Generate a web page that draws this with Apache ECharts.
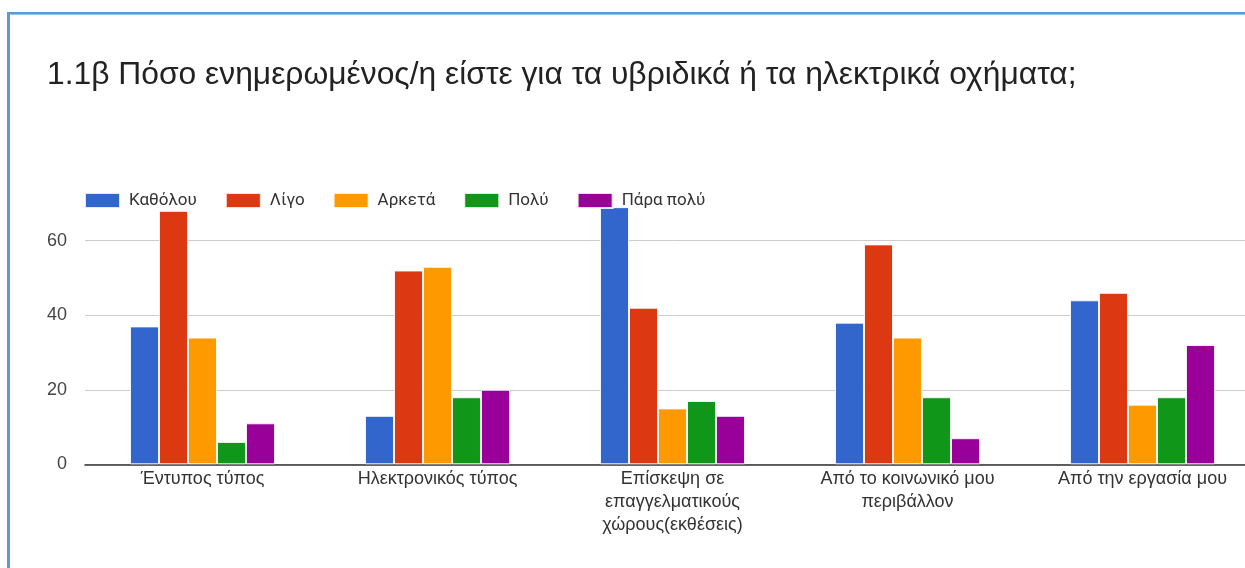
<!DOCTYPE html>
<html>
<head>
<meta charset="utf-8">
<script src="https://cdn.jsdelivr.net/npm/echarts@6/dist/echarts.min.js"></script>
<style>
  html, body { margin: 0; padding: 0; background: #fff; overflow: hidden; }
  /* plot runs slightly past the right edge of the window */
  #chart { width: 1260px; height: 568px; }
</style>
</head>
<body>
<div id="chart"></div>
<script>
// Survey: how informed respondents are about hybrid / electric vehicles, by information source
const titleText = '1.1β Πόσο ενημερωμένος/η είστε για τα υβριδικά ή τα ηλεκτρικά οχήματα;';
const categories = [
  'Έντυπος τύπος',
  'Ηλεκτρονικός τύπος',
  'Επίσκεψη σε επαγγελματικούς χώρους(εκθέσεις)',
  'Από το κοινωνικό μου περιβάλλον',
  'Από την εργασία μου'
];
const seriesNames = ['Καθόλου', 'Λίγο', 'Αρκετά', 'Πολύ', 'Πάρα πολύ'];
const katholou = [37, 13, 69, 38, 44];
const ligo      = [68, 52, 42, 59, 46];
const arketa    = [34, 53, 15, 34, 16];
const poly      = [6, 18, 17, 18, 18];
const paraPoly  = [11, 20, 13, 7, 32];
const yTicks = [0, 20, 40, 60];

const colors = ['#3366cc', '#dc3912', '#ff9900', '#109618', '#990099'];
const values = [katholou, ligo, arketa, poly, paraPoly];

const LABEL_FONT = 'Liberation Sans, Arial, sans-serif';
const LABEL_SIZE = 18;

// greedy word wrap of a category label to a maximum pixel width
const measureCtx = document.createElement('canvas').getContext('2d');
function wrapLabel(text, maxWidth) {
  measureCtx.font = LABEL_SIZE + 'px ' + LABEL_FONT;
  const words = text.split(' ');
  const lines = [];
  let line = '';
  words.forEach(w => {
    const trial = line ? line + ' ' + w : w;
    if (line && measureCtx.measureText(trial).width > maxWidth) {
      lines.push(line);
      line = w;
    } else {
      line = trial;
    }
  });
  if (line) lines.push(line);
  return lines.join('\n');
}

const chart = echarts.init(document.getElementById('chart'), null, { renderer: 'canvas' });

chart.setOption({
  animation: false,
  backgroundColor: '#ffffff',
  color: colors,
  title: {
    text: titleText,
    left: 47,
    top: 59,
    padding: 0,
    textStyle: {
      fontFamily: LABEL_FONT,
      fontSize: 31.8,
      lineHeight: 32,
      fontWeight: 'normal',
      color: '#222222'
    }
  },
  legend: {
    data: seriesNames,
    left: 84,
    top: 192,
    padding: 0,
    itemWidth: 35,
    itemHeight: 15,
    itemGap: 28,
    icon: 'rect',
    textStyle: {
      fontFamily: 'Roboto, sans-serif',
      fontSize: 17,
      color: '#333333',
      padding: [0, 0, 0, 4]
    }
  },
  grid: {
    left: 85,
    right: 0,
    top: 203.4,
    bottom: 103.7,
    containLabel: false,
    outerBoundsMode: 'none'
  },
  xAxis: {
    type: 'category',
    data: categories,
    axisLine: { show: true, lineStyle: { color: '#333333', width: 1.5 } },
    axisTick: { show: false },
    axisLabel: {
      interval: 0,
      margin: 3,
      lineHeight: 23,
      fontFamily: LABEL_FONT,
      fontSize: LABEL_SIZE,
      color: '#333333',
      formatter: v => wrapLabel(v, 200)
    }
  },
  yAxis: {
    type: 'value',
    min: yTicks[0],
    max: 70,
    interval: yTicks[1] - yTicks[0],
    axisLine: { show: false },
    axisTick: { show: false },
    splitLine: { show: true, showMaxLine: false, lineStyle: { color: '#cccccc', width: 1 } },
    axisLabel: {
      showMaxLabel: false,
      margin: 18,
      fontFamily: LABEL_FONT,
      fontSize: 18,
      color: '#444444'
    }
  },
  series: seriesNames.map((name, i) => ({
    name: name,
    type: 'bar',
    data: values[i],
    barGap: '0%',
    barCategoryGap: '38.3%',
    itemStyle: { color: colors[i], borderColor: 'rgba(255,255,255,0.85)', borderWidth: 1 }
  })),
  graphic: [
    { type: 'rect', left: 7, top: 12, shape: { width: 1260, height: 3 }, style: { fill: '#9cc3e8' }, z: 100 },
    { type: 'rect', left: 7, top: 12, shape: { width: 1260, height: 2 }, style: { fill: '#5b9bd5' }, z: 101 },
    { type: 'rect', left: 7, top: 12, shape: { width: 3, height: 560 }, style: { fill: '#5b9bd5' }, z: 101 }
  ]
});
</script>
</body>
</html>
